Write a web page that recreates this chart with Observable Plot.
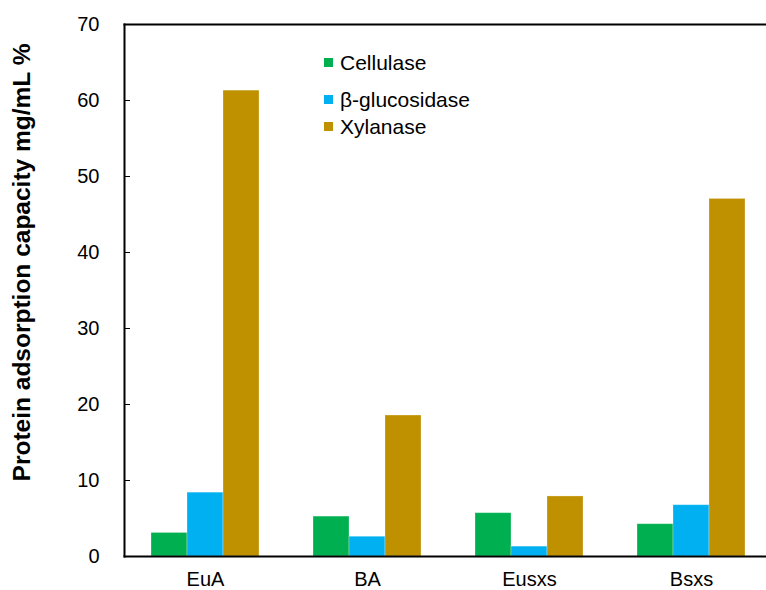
<!DOCTYPE html>
<html>
<head>
<meta charset="utf-8">
<script src="https://cdn.jsdelivr.net/npm/d3@7"></script>
<script src="https://cdn.jsdelivr.net/npm/@observablehq/plot@0.6"></script>
<style>
  html, body { margin: 0; padding: 0; background: #fff; }
  #wrap { position: relative; width: 766px; height: 590px; overflow: hidden; font-family: "Liberation Sans", Arial, sans-serif; }
  #wrap svg { overflow: hidden; }
  #legend { position: absolute; left: 324px; top: 49px; font-size: 21px; color: #000; }
  .item { display: flex; align-items: center; height: 27px; }
  .sw { width: 9px; height: 9px; margin-right: 7px; }
</style>
</head>
<body>
<div id="wrap"></div>
<script>
const categories = ["EuA", "BA", "Eusxs", "Bsxs"];
const series = ["Cellulase", "β-glucosidase", "Xylanase"];
const cellulase = [3.1, 5.25, 5.7, 4.25];
const glucosidase = [8.4, 2.6, 1.3, 6.75];
const xylanase = [61.3, 18.55, 7.9, 47.05];
const colors = ["#00B050", "#00B0F0", "#BF9000"];
const yTicks = [0, 10, 20, 30, 40, 50, 60, 70];
const yLabel = "Protein adsorption capacity mg/mL %";

const valuesBySeries = [cellulase, glucosidase, xylanase];
const rows = categories.flatMap((c, i) =>
  series.map((s, j) => ({category: c, series: s, value: valuesBySeries[j][i]}))
);

const chart = Plot.plot({
  width: 766,
  height: 590,
  marginTop: 24,
  marginBottom: 34,
  marginLeft: 124,
  marginRight: -6,
  style: {fontFamily: "'Liberation Sans', Arial, sans-serif", fontSize: "20px", color: "#000", background: "#fff"},
  fx: {domain: categories, padding: 0, axis: "bottom", tickSize: 0, tickPadding: 15, label: null},
  x: {domain: series, paddingInner: 0, paddingOuter: 0.75, axis: null},
  y: {domain: [0, 70], ticks: yTicks, tickSize: -6, tickPadding: 31, tickFormat: d => d, label: null},
  color: {domain: series, range: colors},
  marks: [
    Plot.barY(rows, {fx: "category", x: "series", y: "value", fill: "series", stroke: "#ffffff", strokeOpacity: 0.35, strokeWidth: 0.8}),
    Plot.frame({anchor: "top", facet: "super", stroke: "#000", strokeWidth: 2}),
    Plot.frame({anchor: "bottom", facet: "super", stroke: "#000", strokeWidth: 2}),
    Plot.frame({anchor: "left", facet: "super", stroke: "#000", strokeWidth: 2}),
    Plot.text([yLabel], {text: d => d, frameAnchor: "left", textAnchor: "middle", rotate: -90, dx: -102, dy: -28, facet: "super", fontWeight: "bold", fontSize: 24.5, fill: "#000"})
  ]
});
const wrap = document.getElementById("wrap");
wrap.appendChild(chart);

const legend = document.createElement("div");
legend.id = "legend";
series.forEach((s, j) => {
  const it = document.createElement("div");
  it.className = "item";
  if (j === 1) it.style.marginTop = "10px";
  const sw = document.createElement("span");
  sw.className = "sw";
  sw.style.background = colors[j];
  const t = document.createElement("span");
  t.textContent = s;
  it.appendChild(sw);
  it.appendChild(t);
  legend.appendChild(it);
});
wrap.appendChild(legend);
</script>
</body>
</html>
